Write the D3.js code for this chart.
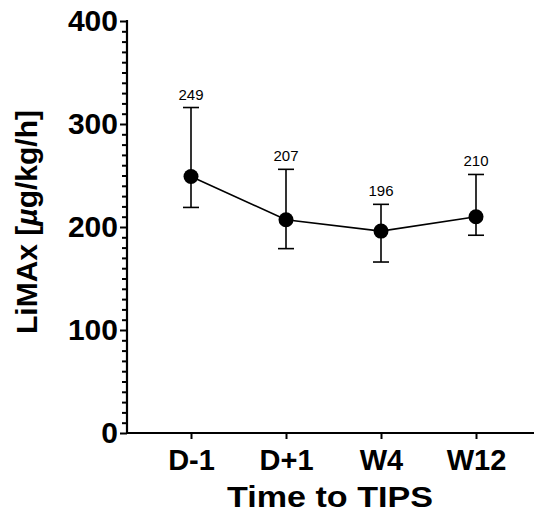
<!DOCTYPE html>
<html>
<head>
<meta charset="utf-8">
<script src="https://cdn.jsdelivr.net/npm/d3@7"></script>
<style>
  body { margin: 0; background: #fff; }
  svg { display: block; font-family: "Liberation Sans", Arial, sans-serif; }
</style>
</head>
<body>
<svg id="chart" width="534" height="522"></svg>
<script>
// ** Data **
const timepoints = ["D-1", "D+1", "W4", "W12"];
const limaxMedian = [249, 207, 196, 210];
const limaxUpper = [316, 256, 222, 251];
const limaxLower = [219, 179, 166, 192];
const yTicks = [0, 100, 200, 300, 400];

// ** Layout **
const axisLeft = 127, axisBottom = 433, axisTop = 21;
const svg = d3.select("#chart");

const x = d3.scalePoint().domain(timepoints).range([191, 476]);
const y = d3.scaleLinear().domain([0, 400]).range([axisBottom, axisTop]);

// minor ticks every 10
const yMinor = d3.range(0, 401, 10).filter(v => v % 100 != 0);
svg.append("g")
  .attr("transform", `translate(${axisLeft},0)`)
  .call(d3.axisLeft(y).tickValues(yMinor).tickSize(5).tickFormat(""))
  .call(g => g.select(".domain").remove())
  .call(g => g.selectAll("line").attr("stroke", "#000").attr("stroke-width", 2));

// major y ticks + labels
svg.append("g")
  .attr("transform", `translate(${axisLeft},0)`)
  .call(d3.axisLeft(y).tickValues(yTicks).tickSize(7).tickPadding(2).tickSizeOuter(0))
  .call(g => g.select(".domain").remove())
  .call(g => g.selectAll("line").attr("stroke", "#000").attr("stroke-width", 2))
  .call(g => g.selectAll("text")
    .attr("font-size", 30).attr("font-weight", "bold").attr("fill", "#000")
    .attr("font-family", "Liberation Sans, Arial, sans-serif"));

// y axis line
svg.append("line")
  .attr("x1", axisLeft).attr("x2", axisLeft)
  .attr("y1", axisTop - 1).attr("y2", axisBottom + 1)
  .attr("stroke", "#000").attr("stroke-width", 2.2);

// x axis
svg.append("g")
  .attr("transform", `translate(0,${axisBottom})`)
  .call(d3.axisBottom(x).tickSize(6).tickPadding(10).tickSizeOuter(0))
  .call(g => g.select(".domain").remove())
  .call(g => g.selectAll("line").attr("stroke", "#000").attr("stroke-width", 2))
  .call(g => g.selectAll("text")
    .attr("font-size", 29).attr("font-weight", "bold").attr("fill", "#000")
    .attr("font-family", "Liberation Sans, Arial, sans-serif"));

svg.append("line")
  .attr("x1", axisLeft - 1).attr("x2", 534)
  .attr("y1", axisBottom).attr("y2", axisBottom)
  .attr("stroke", "#000").attr("stroke-width", 2.2);

// axis titles
svg.append("text")
  .attr("x", 330).attr("y", 507)
  .attr("text-anchor", "middle")
  .attr("font-size", 30).attr("font-weight", "bold")
  .attr("textLength", 206).attr("lengthAdjust", "spacingAndGlyphs")
  .text("Time to TIPS");

const yTitle = svg.append("text")
  .attr("transform", "translate(37,222) rotate(-90)")
  .attr("text-anchor", "middle")
  .attr("font-size", 30).attr("font-weight", "bold");
yTitle.append("tspan").text("LiMAx [");
yTitle.append("tspan").attr("font-style", "italic").text("µ");
yTitle.append("tspan").text("g/kg/h]");

// ** Marks **
const capHalf = 8;
const pts = timepoints.map((t, i) => ({
  t: t, v: limaxMedian[i], hi: limaxUpper[i], lo: limaxLower[i]
}));

// connecting line
svg.append("path")
  .datum(pts)
  .attr("fill", "none")
  .attr("stroke", "#000")
  .attr("stroke-width", 1.6)
  .attr("d", d3.line().x(d => x(d.t)).y(d => y(d.v)));

// error bars
const bars = svg.append("g").attr("stroke", "#000").attr("stroke-width", 1.6);
bars.selectAll(".stem").data(pts).join("line")
  .attr("x1", d => x(d.t)).attr("x2", d => x(d.t))
  .attr("y1", d => y(d.hi)).attr("y2", d => y(d.lo));
bars.selectAll(".capHi").data(pts).join("line")
  .attr("x1", d => x(d.t) - capHalf).attr("x2", d => x(d.t) + capHalf)
  .attr("y1", d => y(d.hi)).attr("y2", d => y(d.hi));
bars.selectAll(".capLo").data(pts).join("line")
  .attr("x1", d => x(d.t) - capHalf).attr("x2", d => x(d.t) + capHalf)
  .attr("y1", d => y(d.lo)).attr("y2", d => y(d.lo));

// points
svg.append("g").selectAll("circle").data(pts).join("circle")
  .attr("cx", d => x(d.t)).attr("cy", d => y(d.v))
  .attr("r", 7.5).attr("fill", "#000");

// value labels
svg.append("g").selectAll("text").data(pts).join("text")
  .attr("x", d => x(d.t)).attr("y", d => y(d.hi) - 8)
  .attr("text-anchor", "middle")
  .attr("font-size", 15)
  .text(d => d.v);
</script>
</body>
</html>
